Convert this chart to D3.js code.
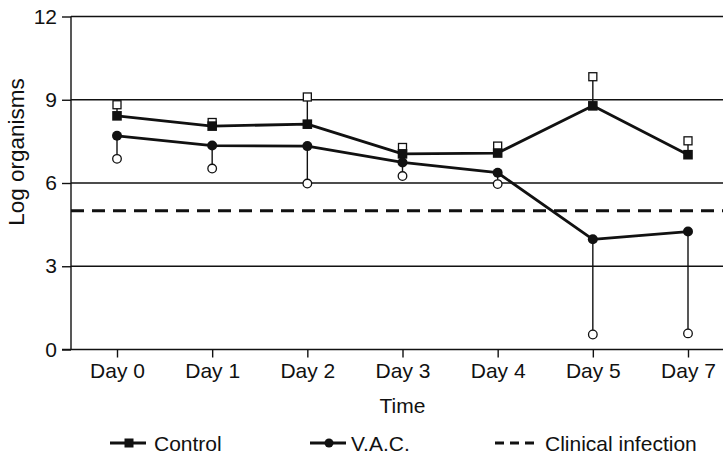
<!DOCTYPE html>
<html>
<head>
<meta charset="utf-8">
<script src="https://cdn.jsdelivr.net/npm/d3@7"></script>
<style>
  body { margin: 0; background: #fff; }
  text { font-family: "Liberation Sans", Arial, sans-serif; fill: #111; }
</style>
</head>
<body>
<div id="chart"></div>
<script>
// data
const days = ["Day 0", "Day 1", "Day 2", "Day 3", "Day 4", "Day 5", "Day 7"];
const control = [8.42, 8.05, 8.12, 7.05, 7.08, 8.78, 7.02];
const controlUpper = [8.82, 8.18, 9.1, 7.28, 7.33, 9.83, 7.52];
const vac = [7.7, 7.35, 7.33, 6.74, 6.37, 3.97, 4.25];
const vacLower = [6.87, 6.52, 5.98, 6.25, 5.96, 0.54, 0.58];
const yTicks = [0, 3, 6, 9, 12];
const infectionLevel = 5;
const legendItems = ["Control", "V.A.C.", "Clinical infection"];

const W = 724, H = 456;
const plot = {left: 71, right: 723, top: 16.5, bottom: 349.5};
const fs = 21;

const svg = d3.select("#chart").append("svg")
    .attr("width", W)
    .attr("height", H);

const x = d3.scalePoint()
    .domain(days)
    .range([117, 688]);

const y = d3.scaleLinear()
    .domain([0, 12])
    .range([plot.bottom, plot.top]);

// gridlines
svg.append("g")
    .selectAll("line")
    .data(yTicks.filter(d => d > 0))
    .join("line")
    .attr("x1", plot.left)
    .attr("x2", plot.right)
    .attr("y1", d => y(d))
    .attr("y2", d => y(d))
    .attr("stroke", "#111")
    .attr("stroke-width", 1.4);

// clinical infection threshold
svg.append("line")
    .attr("x1", plot.left)
    .attr("x2", plot.right)
    .attr("y1", y(infectionLevel))
    .attr("y2", y(infectionLevel))
    .attr("stroke", "#111")
    .attr("stroke-width", 2.8)
    .attr("stroke-dasharray", "13,8");

// axes
const yAxis = d3.axisLeft(y)
    .tickValues(yTicks)
    .tickSize(9)
    .tickPadding(5);

svg.append("g")
    .attr("transform", `translate(${plot.left},0)`)
    .call(yAxis)
    .call(g => g.select(".domain").remove())
    .call(g => g.selectAll("line").attr("stroke", "#111").attr("stroke-width", 1.4))
    .call(g => g.selectAll("text").attr("font-size", fs).attr("font-family", "Liberation Sans, Arial, sans-serif"));

const xAxis = d3.axisBottom(x)
    .tickSize(8)
    .tickPadding(6);

svg.append("g")
    .attr("transform", `translate(0,${plot.bottom})`)
    .call(xAxis)
    .call(g => g.select(".domain").remove())
    .call(g => g.selectAll("line").attr("stroke", "#111").attr("stroke-width", 1.4))
    .call(g => g.selectAll("text").attr("font-size", fs).attr("font-family", "Liberation Sans, Arial, sans-serif"));

// axis lines
svg.append("line")
    .attr("x1", plot.left).attr("x2", plot.left)
    .attr("y1", plot.top).attr("y2", plot.bottom)
    .attr("stroke", "#111").attr("stroke-width", 1.4);
svg.append("line")
    .attr("x1", plot.left - 9).attr("x2", plot.right)
    .attr("y1", plot.bottom).attr("y2", plot.bottom)
    .attr("stroke", "#111").attr("stroke-width", 1.4);

// axis titles
svg.append("text")
    .attr("x", (x("Day 0") + x("Day 7")) / 2)
    .attr("y", 413)
    .attr("text-anchor", "middle")
    .attr("font-size", fs)
    .text("Time");

svg.append("text")
    .attr("transform", "translate(24,152) rotate(-90)")
    .attr("text-anchor", "middle")
    .attr("font-size", 22.5)
    .text("Log organisms");

// error stems
const controlData = days.map((d, i) => ({day: d, v: control[i], e: controlUpper[i]}));
const vacData = days.map((d, i) => ({day: d, v: vac[i], e: vacLower[i]}));

[controlData, vacData].forEach(series => {
    svg.append("g")
        .selectAll("line")
        .data(series)
        .join("line")
        .attr("x1", d => x(d.day))
        .attr("x2", d => x(d.day))
        .attr("y1", d => y(d.v))
        .attr("y2", d => y(d.e))
        .attr("stroke", "#111")
        .attr("stroke-width", 1.4);
});

// series lines
const line = d3.line()
    .x(d => x(d.day))
    .y(d => y(d.v));

[controlData, vacData].forEach(series => {
    svg.append("path")
        .datum(series)
        .attr("d", line)
        .attr("fill", "none")
        .attr("stroke", "#111")
        .attr("stroke-width", 2.8)
        .attr("stroke-linejoin", "round");
});

// error end markers
svg.append("g")
    .selectAll("rect")
    .data(controlData)
    .join("rect")
    .attr("x", d => x(d.day) - 4)
    .attr("y", d => y(d.e) - 4)
    .attr("width", 8)
    .attr("height", 8)
    .attr("fill", "#fff")
    .attr("stroke", "#111")
    .attr("stroke-width", 1.3);

svg.append("g")
    .selectAll("circle")
    .data(vacData)
    .join("circle")
    .attr("cx", d => x(d.day))
    .attr("cy", d => y(d.e))
    .attr("r", 4.3)
    .attr("fill", "#fff")
    .attr("stroke", "#111")
    .attr("stroke-width", 1.3);

// main markers
svg.append("g")
    .selectAll("rect")
    .data(controlData)
    .join("rect")
    .attr("x", d => x(d.day) - 4.8)
    .attr("y", d => y(d.v) - 4.8)
    .attr("width", 9.6)
    .attr("height", 9.6)
    .attr("fill", "#111");

svg.append("g")
    .selectAll("circle")
    .data(vacData)
    .join("circle")
    .attr("cx", d => x(d.day))
    .attr("cy", d => y(d.v))
    .attr("r", 5)
    .attr("fill", "#111");

// legend
const ly = 443;
const legend = svg.append("g");
const legendX = [110, 310, 495];
const legendTextX = [154, 351, 545];

legend.selectAll("line.leg")
    .data(legendItems)
    .join("line")
    .attr("class", "leg")
    .attr("x1", (d, i) => legendX[i])
    .attr("x2", (d, i) => legendX[i] + (i === 2 ? 42 : 36))
    .attr("y1", ly)
    .attr("y2", ly)
    .attr("stroke", "#111")
    .attr("stroke-width", 2.8)
    .attr("stroke-dasharray", (d, i) => i === 2 ? "9,6" : null);

legend.append("rect")
    .attr("x", legendX[0] + 19 - 4.5)
    .attr("y", ly - 4.5)
    .attr("width", 9)
    .attr("height", 9)
    .attr("fill", "#111");

legend.append("circle")
    .attr("cx", legendX[1] + 19)
    .attr("cy", ly)
    .attr("r", 4.5)
    .attr("fill", "#111");

legend.selectAll("text")
    .data(legendItems)
    .join("text")
    .attr("x", (d, i) => legendTextX[i])
    .attr("y", ly + 7.5)
    .attr("font-size", fs)
    .text(d => d);
</script>
</body>
</html>
